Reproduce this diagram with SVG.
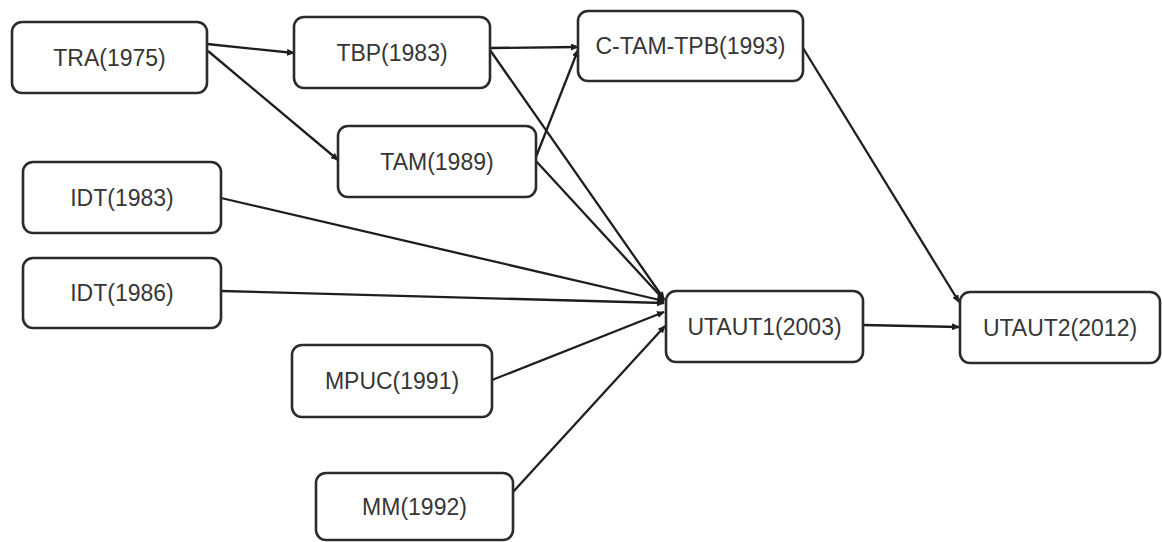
<svg xmlns="http://www.w3.org/2000/svg" width="1162" height="542" viewBox="0 0 1162 542">
  <style>
    .box { fill: #ffffff; stroke: #2b2b2b; stroke-width: 2.6; }
    .lbl { font-family: "Liberation Sans", Arial, sans-serif; font-size: 23px; fill: #363636; text-anchor: middle; }
    .edge { fill: none; stroke: #1e1e1e; stroke-width: 2.3; marker-end: url(#arrow); }
  </style>
  <defs>
    <marker id="arrow" markerUnits="userSpaceOnUse" markerWidth="8" markerHeight="7" refX="7" refY="3.5" orient="auto">
      <path d="M0,0 L8,3.5 L0,7 z" fill="#1e1e1e"/>
    </marker>
  </defs>
  <rect width="1162" height="542" fill="#ffffff"/>

  <!-- connectors -->
  <g id="connectors">
    <line class="edge" x1="207" y1="44" x2="294" y2="53"/>
    <line class="edge" x1="208" y1="51" x2="338" y2="160"/>
    <line class="edge" x1="490" y1="48" x2="578" y2="47"/>
    <line class="edge" x1="536" y1="157" x2="578" y2="50"/>
    <line class="edge" x1="490" y1="50" x2="664" y2="299"/>
    <line class="edge" x1="536" y1="161" x2="664" y2="300"/>
    <line class="edge" x1="221" y1="198" x2="664" y2="301"/>
    <line class="edge" x1="221" y1="291" x2="664" y2="303"/>
    <line class="edge" x1="492" y1="380" x2="664" y2="312"/>
    <line class="edge" x1="513" y1="492" x2="665" y2="326"/>
    <line class="edge" x1="803" y1="48" x2="959" y2="302"/>
    <line class="edge" x1="863" y1="325" x2="959" y2="327"/>
  </g>

  <!-- nodes -->
  <g id="tra">
    <rect class="box" x="12" y="22" width="195" height="71" rx="10"/>
    <text class="lbl" x="109.5" y="65.7">TRA(1975)</text>
  </g>
  <g id="tbp">
    <rect class="box" x="294" y="17" width="196" height="71" rx="10"/>
    <text class="lbl" x="392" y="60.7">TBP(1983)</text>
  </g>
  <g id="tam">
    <rect class="box" x="338" y="126" width="198" height="71" rx="10"/>
    <text class="lbl" x="437" y="169.7">TAM(1989)</text>
  </g>
  <g id="c-tam-tpb">
    <rect class="box" x="578" y="11" width="225" height="70" rx="10"/>
    <text class="lbl" x="690.5" y="54.2">C-TAM-TPB(1993)</text>
  </g>
  <g id="idt1983">
    <rect class="box" x="23" y="162" width="198" height="71" rx="10"/>
    <text class="lbl" x="122" y="205.7">IDT(1983)</text>
  </g>
  <g id="idt1986">
    <rect class="box" x="23" y="258" width="198" height="70" rx="10"/>
    <text class="lbl" x="122" y="301.2">IDT(1986)</text>
  </g>
  <g id="mpuc">
    <rect class="box" x="292" y="345" width="200" height="72" rx="10"/>
    <text class="lbl" x="392" y="389.2">MPUC(1991)</text>
  </g>
  <g id="mm">
    <rect class="box" x="316" y="473" width="197" height="67" rx="10"/>
    <text class="lbl" x="414.5" y="515">MM(1992)</text>
  </g>
  <g id="utaut1">
    <rect class="box" x="666" y="291" width="197" height="71" rx="10"/>
    <text class="lbl" x="764.5" y="334.7">UTAUT1(2003)</text>
  </g>
  <g id="utaut2">
    <rect class="box" x="960" y="292" width="200" height="71" rx="10"/>
    <text class="lbl" x="1060" y="335.7">UTAUT2(2012)</text>
  </g>
</svg>
